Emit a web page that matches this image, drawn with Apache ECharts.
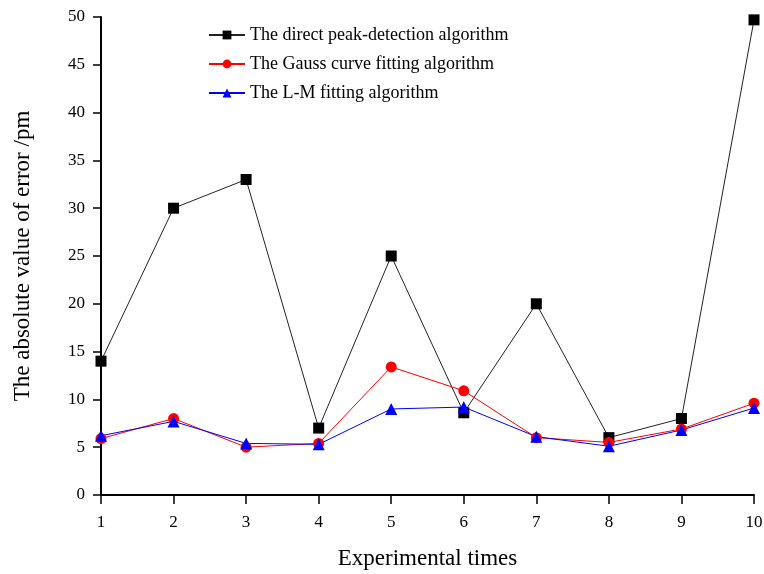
<!DOCTYPE html>
<html><head><meta charset="utf-8">
<script src="https://cdn.jsdelivr.net/npm/echarts@6/dist/echarts.min.js"></script>
<style>html,body{margin:0;padding:0;background:#fff}#c{width:764px;height:574px}</style>
</head><body><div id="c"></div>
<script>
var experiments = [1,2,3,4,5,6,7,8,9,10];
var directPeak = [14, 30, 33, 7, 25, 8.6, 20, 6, 8, 49.7];
var gaussFit = [5.9, 8.0, 5.0, 5.4, 13.4, 10.9, 6.0, 5.5, 6.9, 9.6];
var lmFit = [6.2, 7.7, 5.4, 5.3, 9.0, 9.2, 6.1, 5.1, 6.8, 9.1];
var seriesNames = ['The direct peak-detection algorithm','The Gauss curve fitting algorithm','The L-M fitting algorithm'];

function pairs(v){ return experiments.map(function(x,i){return [x,v[i]];}); }
var font = 'Liberation Serif';
var chart = echarts.init(document.getElementById('c'));
chart.setOption({
  animation:false,
  backgroundColor:'#fff',
  textStyle:{fontFamily:font},
  grid:{left:101,right:10,top:17,bottom:79,containLabel:false,outerBoundsMode:'none'},
  legend:{
    orient:'vertical', left:203, top:21, itemGap:11, itemWidth:36, itemHeight:11,
    textStyle:{fontFamily:font,fontSize:18,color:'#000'},
    data:seriesNames
  },
  xAxis:{
    type:'value', min:1, max:10, interval:1,
    name:'Experimental times', nameLocation:'middle', nameGap:52,
    nameTextStyle:{fontFamily:font,fontSize:23,color:'#000'},
    axisLine:{show:true,lineStyle:{color:'#000',width:2}},
    axisTick:{show:true,inside:false,length:9,lineStyle:{color:'#000',width:1.5}},
    axisLabel:{fontFamily:font,fontSize:17,color:'#000',margin:19},
    splitLine:{show:false}
  },
  yAxis:{
    type:'value', min:0, max:50, interval:5,
    name:'The absolute value of error /pm', nameLocation:'middle', nameGap:67, nameRotate:90,
    nameTextStyle:{fontFamily:font,fontSize:23,color:'#000'},
    axisLine:{show:true,lineStyle:{color:'#000',width:2}},
    axisTick:{show:true,inside:false,length:8,lineStyle:{color:'#000',width:1.5}},
    axisLabel:{fontFamily:font,fontSize:17,color:'#000',margin:16},
    splitLine:{show:false}
  },
  series:[
    {name:seriesNames[0],type:'line',data:pairs(directPeak),symbol:'rect',symbolSize:11,
     itemStyle:{color:'#000'},lineStyle:{color:'#222',width:1}},
    {name:seriesNames[1],type:'line',data:pairs(gaussFit),symbol:'circle',symbolSize:11,
     itemStyle:{color:'#ff0000'},lineStyle:{color:'#ff0000',width:1}},
    {name:seriesNames[2],type:'line',data:pairs(lmFit),symbol:'triangle',symbolSize:12,
     itemStyle:{color:'#0000ff'},lineStyle:{color:'#0000ff',width:1}}
  ]
});
</script></body></html>
